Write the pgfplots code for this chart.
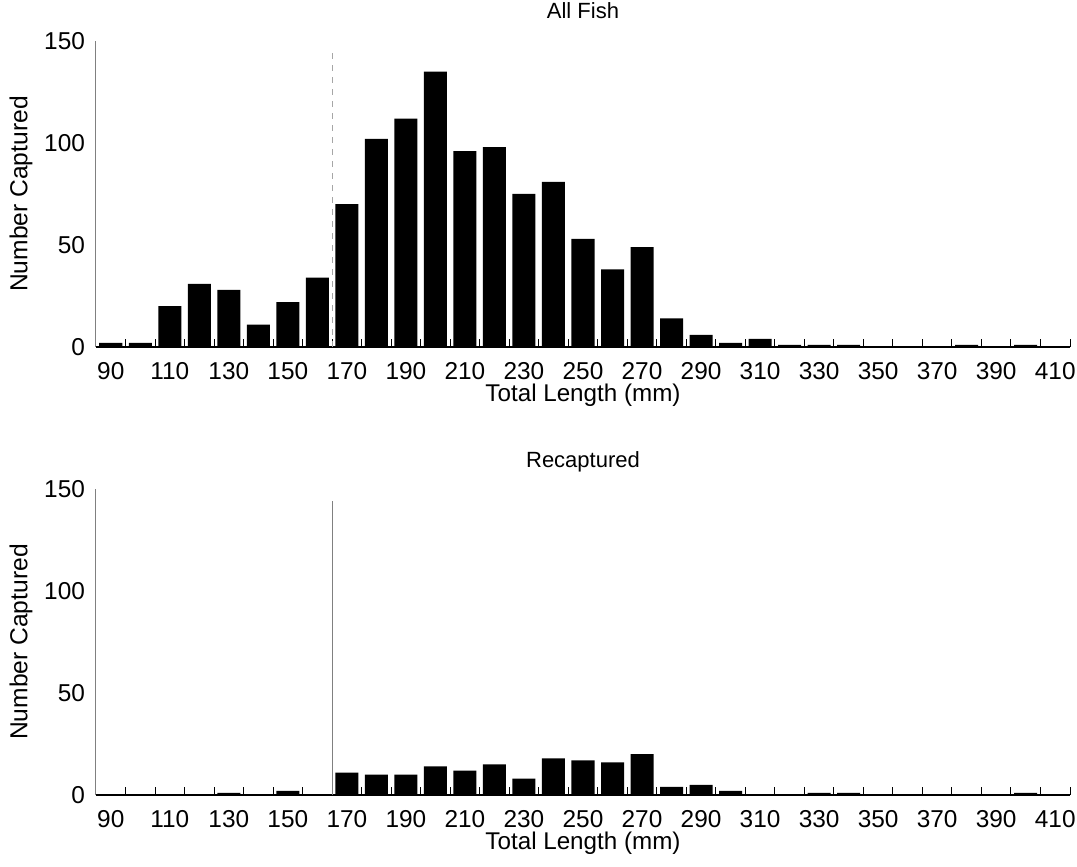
\documentclass[border=0pt]{standalone}
\usepackage{fontspec}
\setmainfont{Liberation Sans}
\usepackage{pgfplots}
\pgfplotsset{compat=1.18}

\pgfplotstableread{
len allfish recap
90   2   0
100  2   0
110  20  0
120  31  0
130  28  1
140  11  0
150  22  2
160  34  0
170  70  11
180  102 10
190  112 10
200  135 14
210  96  12
220  98  15
230  75  8
240  81  18
250  53  17
260  38  16
270  49  20
280  14  4
290  6   5
300  2   2
310  4   0
320  1   0
330  1   1
340  1   1
350  0   0
360  0   0
370  0   0
380  1   0
390  0   0
400  1   1
410  0   0
}\fishdata

\pgfplotsset{
  fishpanel/.style={
    width=487pt, height=153pt, scale only axis,
    xmin=85, xmax=415, ymin=0, ymax=150,
    axis x line=bottom, axis y line=left,
    x axis line style={black, -, line width=0.6pt},
    y axis line style={gray, -, line width=0.5pt},
    xtick={90,110,...,410},
    minor xtick={95,105,...,415},
    ytick={0,50,100,150},
    major tick length=0pt,
    minor tick length=4pt,
    tick align=inside,
    minor tick style={black, line width=0.5pt},
    /pgf/number format/assume math mode=true,
    tick label style={font=\fontsize{12.2}{13}\selectfont},
    xticklabel style={yshift=-4pt},
    yticklabel style={xshift=-2pt},
    xlabel={Total Length (mm)},
    ylabel={Number Captured},
    every axis x label/.style={at={(axis description cs:0.5,0)}, anchor=north,
      yshift=-15pt, font=\fontsize{12.1}{13}\selectfont},
    every axis y label/.style={at={(axis description cs:-0.077,0.5)}, rotate=90,
      anchor=center, font=\fontsize{12.3}{13}\selectfont},
    title style={at={(axis description cs:0.5,1)}, anchor=base, yshift=5pt,
      font=\fontsize{11}{12}\selectfont},
    clip=false,
  }
}

\begin{document}
\begin{tikzpicture}
\path[use as bounding box] (-48pt,173.5pt) rectangle (490.5pt,-260pt);

\begin{axis}[fishpanel, at={(0,0)}, anchor=south west, title={All Fish}]
  \addplot[ybar, bar width=7.8, fill=black, draw=none] table[x=len, y=allfish] {\fishdata};
  \addplot[gray!70, dashed, line width=0.6pt] coordinates {(165,0) (165,146)};
\end{axis}

\begin{axis}[fishpanel, at={(0,-224pt)}, anchor=south west, title={Recaptured}]
  \addplot[ybar, bar width=7.8, fill=black, draw=none] table[x=len, y=recap] {\fishdata};
  \addplot[gray, line width=0.6pt] coordinates {(165,0) (165,144)};
\end{axis}
\end{tikzpicture}
\end{document}
